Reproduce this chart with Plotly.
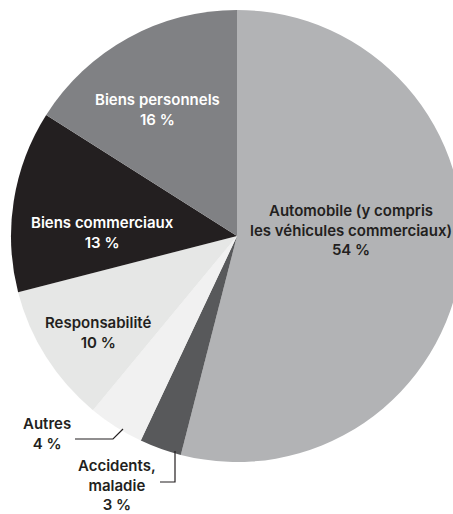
import plotly.graph_objects as go

# Répartition des primes par branche d'assurance (sens horaire depuis midi)
categories = [
    "Automobile (y compris<br>les véhicules commerciaux)",
    "Accidents,<br>maladie",
    "Autres",
    "Responsabilité",
    "Biens commerciaux",
    "Biens personnels",
]
shares = [54, 3, 4, 10, 13, 16]
slice_colors = ["#b2b3b5", "#58595b", "#f1f1f1", "#e6e7e6", "#231f20", "#808184"]
label_colors = ["#231f20", "#231f20", "#231f20", "#231f20", "#ffffff", "#ffffff"]

W, H = 470, 514
CX, CY, R = 237, 236, 226


def px(x):
    return x / W


def py(y):
    return 1 - y / H


fig = go.Figure(
    go.Pie(
        labels=categories,
        values=shares,
        sort=False,
        direction="clockwise",
        rotation=0,
        marker=dict(colors=slice_colors, line=dict(width=0)),
        textinfo="none",
        hoverinfo="skip",
        domain=dict(x=[px(CX - R), px(CX + R)], y=[py(CY + R), py(CY - R)]),
    )
)

# Label anchor points (pixel centres of each text block)
label_pos = [(351, 230), (117, 485), (47, 433), (98, 332), (102, 233), (157, 109)]

annotations = []
for name, val, col, (lx, ly) in zip(categories, shares, label_colors, label_pos):
    annotations.append(
        dict(
            x=px(lx), y=py(ly), xref="paper", yref="paper",
            text=f"{name}<br>{val} %",
            showarrow=False, align="center",
            xanchor="center", yanchor="middle",
            font=dict(family="Inter, Liberation Sans, Arial, sans-serif", size=15,
                      color=col, weight=600),
        )
    )

# Leader lines for the two narrow slices
def path(points):
    d = "M " + " L ".join(f"{px(x)},{py(y)}" for x, y in points)
    return dict(type="path", path=d, xref="paper", yref="paper",
                line=dict(color="#231f20", width=1.2))

shapes = [
    path([(75, 439), (113, 439), (123, 429)]),
    path([(175, 451), (175, 482), (160, 482)]),
]

fig.update_layout(
    width=W, height=H, autosize=False,
    margin=dict(l=0, r=0, t=0, b=0),
    paper_bgcolor="white", plot_bgcolor="white",
    showlegend=False,
    annotations=annotations,
    shapes=shapes,
)

fig.write_html(
    "out.html",
    post_script="document.documentElement.style.overflow='hidden';"
                "document.body.style.overflow='hidden';document.body.style.margin='0';",
)
